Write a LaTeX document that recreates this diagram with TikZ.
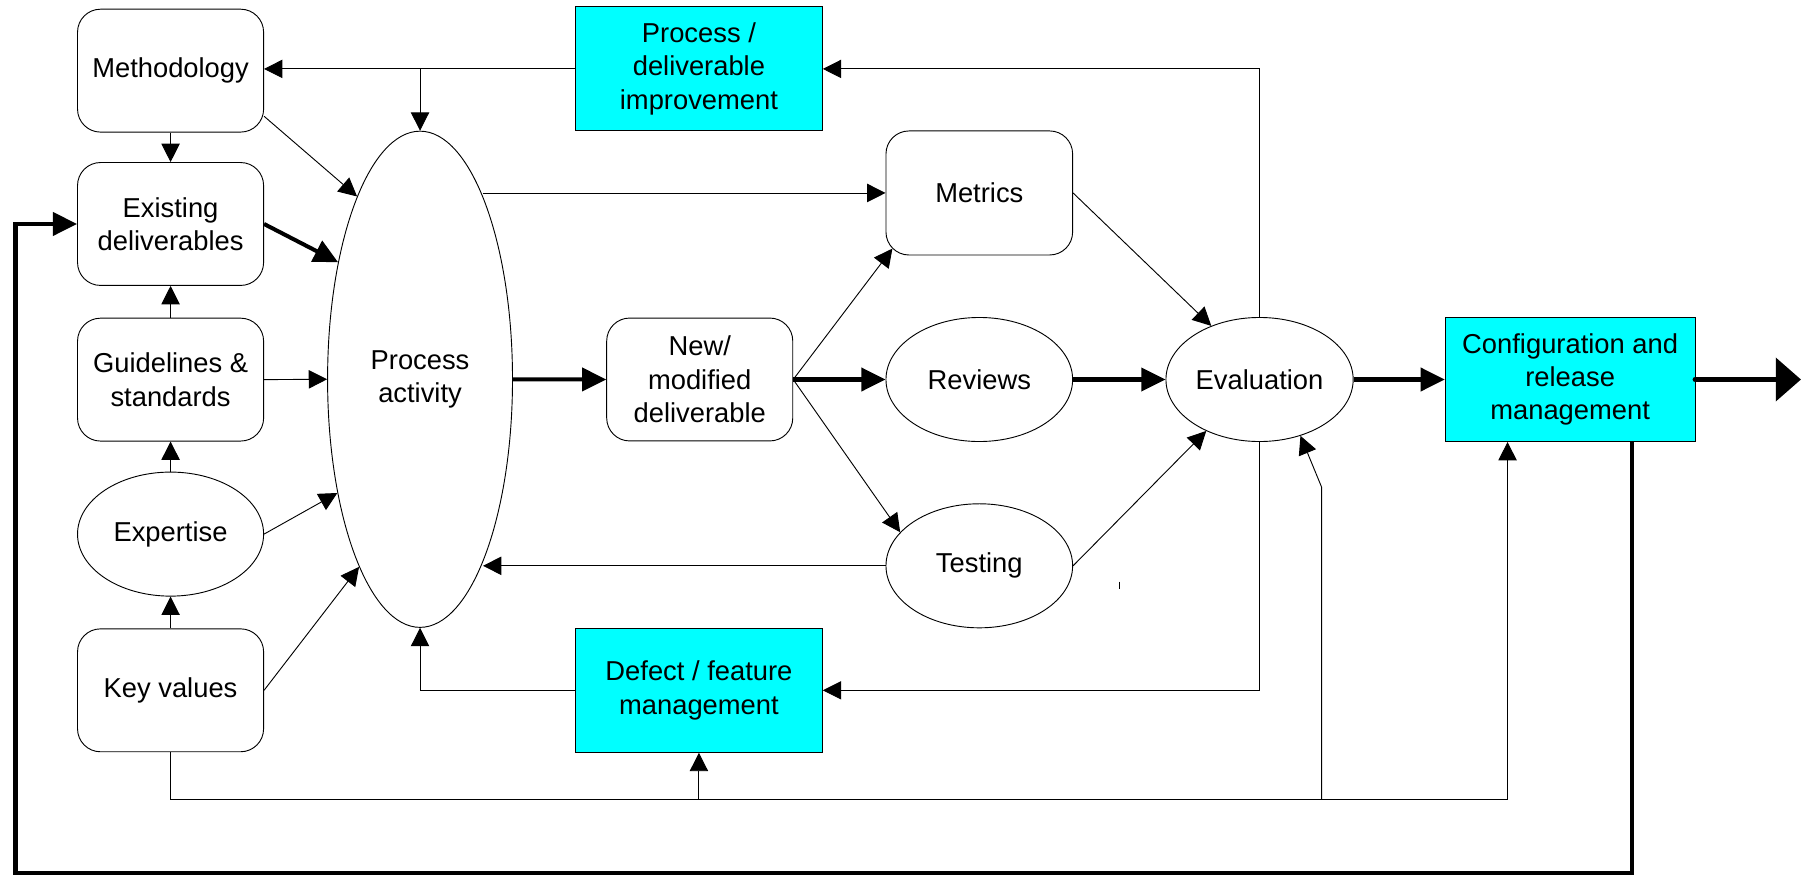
\documentclass[tikz,border=0pt]{standalone}
\usepackage{fontspec}
\setmainfont{Liberation Sans}
\usetikzlibrary{arrows.meta}
\usetikzlibrary{shapes.geometric}
\definecolor{aqua}{RGB}{0,255,255}

\begin{document}
\begin{tikzpicture}[x=1pt, y=-1pt,
  every node/.style={font=\fontsize{23.8}{29}\selectfont, align=center, inner sep=0pt, line width=0.8pt},
  rbox/.style={draw, rounded corners=20pt, minimum width=162pt, minimum height=107pt},
  oval/.style={draw, ellipse, minimum width=162.5pt, minimum height=108pt},
  cbox/.style={draw, fill=aqua, minimum width=216pt, minimum height=108pt},
  ln/.style={line width=0.8pt},
  ar/.style={ln, -{Triangle[length=16pt, width=16pt]}},
  tar/.style={line width=3.5pt, -{Triangle[length=21pt, width=20pt]}},
  bigar/.style={line width=5.2pt, line cap=round, -{Triangle[length=22pt, width=37pt]}}]
\useasboundingbox (0,0) rectangle (1568,763);

% left column
\node[rbox] (meth)  at (148.5,61.5)  {Methodology};
\node[rbox] (exist) at (148.5,195)   {Existing\\deliverables};
\node[rbox] (guide) at (148.5,330.5) {Guidelines \&\\standards};
\node[oval, minimum width=162pt] (expt) at (148.5,465) {Expertise};
\node[rbox] (key)   at (148.5,601)   {Key values};

\node[draw, ellipse, minimum width=161pt, minimum height=432pt] (pa) at (365.7,330.2) {Process\\activity};

\node[cbox, minimum width=215pt] (imp) at (608.5,60)  {Process /\\deliverable\\improvement};
\node[cbox, minimum width=215pt] (def) at (608.5,601) {Defect / feature\\management};
\node[rbox] (new) at (609.2,330.4) {New/\\modified\\deliverable};

\node[rbox, minimum width=162.5pt, minimum height=108pt] (met) at (852.6,168) {Metrics};
\node[oval] (rev) at (852.6,330.4) {Reviews};
\node[oval] (tst) at (852.6,492.6) {Testing};
\node[oval, minimum width=163pt] (ev) at (1096.6,330.4) {Evaluation};
\node[cbox, minimum width=217.5pt] (cfg) at (1367,330.4) {Configuration and\\release\\management};

% feedback into the left column
\draw[ar] (imp.west) -- (imp.west -| meth.east);
\draw[ar] (imp.west -| pa.north) -- (pa.north);
\draw[ar] (ev.north) |- (imp.east);
\draw[ar] (meth.south) -- (exist.north);
\foreach \a/\b in {guide/exist, expt/guide, key/expt}
  \draw[ar] (\a.north) -- (\b.south);
\draw[ar] (meth.-26) -- (pa.109.4);
\draw[tar] (exist.east) -- (pa.125.3);
\draw[ar] (guide.east) -- (pa.west);
\draw[ar] (expt.east) -- (pa.234.1);
\draw[ar] (key.east) -- (pa.252.9);

% main flow
\draw[tar] (pa.east) -- (new.west);
\draw[ar] (met.west -| pa.71.8) -- (met.west);
\draw[ar] (new.east) -- ([shift={(6,-6)}]met.south west);
\draw[tar] (new.east) -- (rev.west);
\draw[ar] (new.east) -- (tst.157.3);
\draw[ar] (met.east) -- (ev.132.2);
\draw[tar] (rev.east) -- (ev.west);
\draw[ar] (tst.east) -- (ev.224.6);
\draw[ar] (tst.west) -- (tst.west -| pa.-71.8);
\draw[ar] (ev.south) |- (def.east);
\draw[ar] (def.west) -| (pa.south);
\draw[tar] (ev.east) -- (cfg.west);
\draw[ln] (974.5,506.4) -- (974.5,513.1);

% key values bus
\coordinate (kb) at (148.5,696);
\coordinate (bend) at (1150.7,424.3);
\draw[ar] (key.south) -- (kb) -| ([xshift=-54.5pt]cfg.south);
\draw[ar] (kb -| def.south) -- (def.south);
\draw[ar] (kb -| bend) -- (bend) -- (ev.-54);

% release loop and output
\coordinate (lp) at (13.5,760);
\draw[tar] ([xshift=54pt]cfg.south) |- (lp) |- (exist.west);
\coordinate (out) at (1568,330.4);
\draw[bigar] (cfg.east) -- (out);
\end{tikzpicture}
\end{document}
